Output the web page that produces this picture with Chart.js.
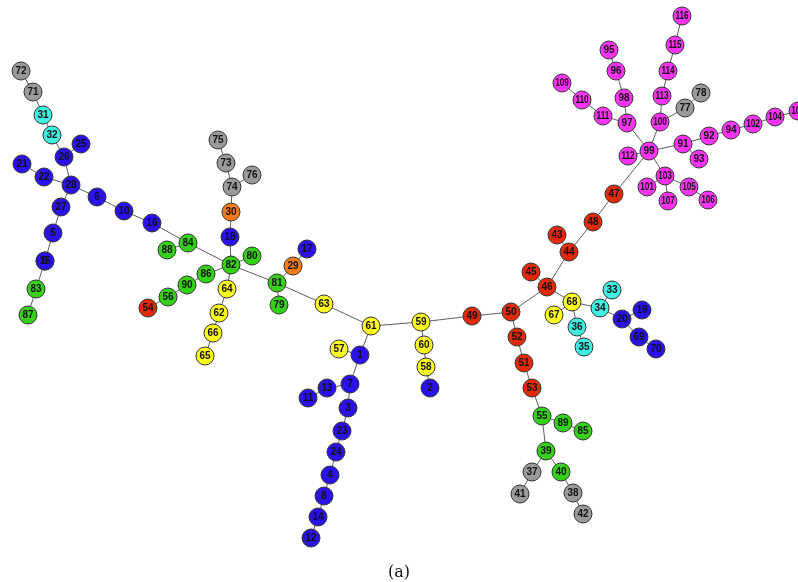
<!DOCTYPE html>
<html>
<head>
<meta charset="utf-8">
<script src="https://cdn.jsdelivr.net/npm/chart.js@4"></script>
<style>
  body { margin: 0; background: #fff; }
  #wrap { position: relative; width: 798px; height: 582px; }
  #caption { position: absolute; left: 0; width: 798px; top: 562px; text-align: center;
             font-family: "DejaVu Serif", "Liberation Serif", serif; font-size: 16px; color: #111; }
</style>
</head>
<body>
<div id="wrap">
  <canvas id="graph" width="798" height="582"></canvas>
  <div id="caption">(a)</div>
</div>
<script>
// node ids, layout coordinates and group of each node
var nodeIds = [72, 71, 31, 32, 25, 26, 21, 22, 28, 6, 27, 10, 16, 5, 84, 88, 9, 15, 90, 83, 56, 54, 87,
    75, 73, 76, 74, 30, 18, 17, 80, 29, 82, 86, 81, 64, 79, 63, 62, 66, 65, 57,
    61, 59, 49, 1, 60, 58, 7, 13, 2, 11, 3, 23, 24, 4, 8, 14, 12,
    45, 46, 33, 68, 34, 19, 50, 67, 20, 36, 69, 52, 35, 70, 51, 53, 55, 89, 85, 39, 37, 40, 38, 41, 42,
    48, 43, 44,
    116, 115, 95, 96, 114, 109, 78, 113, 98, 110, 77, 111, 100, 97, 102, 104, 94, 92, 91, 99, 112, 93,
    103, 101, 105, 47, 107, 106, 108];
var nodeX = [21, 33, 43, 52, 81, 64, 22, 44, 71, 97, 61, 124, 152, 53, 188, 167, 45, 45, 187, 36, 168, 148, 28,
    218, 226, 252, 232, 231, 230, 307, 252, 293, 231, 206, 277, 227, 279, 324, 219, 213, 205, 339,
    371, 421, 472, 360, 424, 426, 350, 327, 430, 308, 348, 342, 336, 330, 324, 318, 311,
    531, 547, 612, 572, 600, 642, 511, 554, 622, 577, 639, 517, 584, 656, 524, 532, 542, 563, 583, 546, 532, 561, 573, 520, 583,
    593, 557, 569,
    682, 675, 609, 616, 668, 562, 701, 662, 624, 582, 685, 603, 660, 627, 753, 775, 731, 709, 683, 649, 628, 699,
    665, 647, 689, 614, 668, 708, 798];
var nodeY = [71, 92, 115, 135, 144, 157, 164, 177, 185, 197, 207, 211, 223, 233, 243, 250, 261, 261, 285, 289, 297, 308, 315,
    140, 163, 175, 187, 212, 237, 249, 256, 266, 265, 274, 283, 289, 305, 304, 313, 333, 356, 349,
    326, 322, 316, 355, 345, 367, 384, 388, 388, 398, 408, 431, 452, 475, 496, 517, 538,
    272, 287, 290, 302, 308, 310, 312, 315, 319, 327, 337, 337, 347, 349, 363, 388, 416, 423, 431, 451, 472, 472, 493, 494, 514,
    222, 235, 252,
    16, 45, 50, 71, 71, 83, 93, 96, 98, 100, 108, 116, 122, 123, 124, 117, 130, 136, 144, 151, 156, 159,
    176, 187, 187, 194, 201, 200, 111];
var groupOf = {
    gray: [72, 71, 75, 73, 74, 76, 37, 41, 38, 42, 77, 78],
    cyan: [31, 32, 33, 34, 35, 36],
    blue: [1, 2, 3, 4, 5, 6, 7, 8, 9, 10, 11, 12, 13, 14, 15, 16, 17, 18, 19, 20, 21, 22, 23, 24, 25, 26, 27, 28, 69, 70],
    green: [83, 87, 84, 88, 90, 56, 86, 82, 80, 81, 79, 55, 89, 85, 39, 40],
    red: [54, 49, 50, 52, 51, 53, 45, 46, 43, 44, 48, 47],
    orange: [30, 29],
    yellow: [57, 61, 59, 60, 58, 63, 64, 62, 66, 65, 67, 68]
    // everything else is magenta (91..116)
};
var edges = [[72, 71], [71, 31], [31, 32], [32, 26], [26, 25], [26, 28], [21, 22], [22, 28], [28, 6], [28, 27],
    [27, 5], [5, 15], [15, 83], [83, 87], [6, 10], [10, 16], [16, 84], [84, 88], [84, 82], [82, 18], [18, 30],
    [30, 74], [74, 73], [73, 75], [74, 76], [82, 80], [82, 86], [86, 90], [90, 56], [56, 54], [82, 64], [64, 62],
    [62, 66], [66, 65], [82, 81], [81, 29], [29, 17], [81, 79], [81, 63], [63, 61], [61, 1], [1, 57], [1, 7],
    [7, 13], [13, 11], [7, 3], [3, 23], [23, 24], [24, 4], [4, 8], [8, 14], [14, 12], [61, 59], [59, 60],
    [60, 58], [58, 2], [59, 49], [49, 50], [50, 52], [52, 51], [51, 53], [53, 55], [55, 89], [89, 85], [55, 39],
    [39, 37], [37, 41], [39, 40], [40, 38], [38, 42], [50, 46], [46, 45], [46, 68], [68, 67], [68, 36], [36, 35],
    [68, 34], [34, 33], [34, 20], [20, 19], [20, 69], [69, 70], [46, 44], [44, 43], [44, 48], [48, 47], [47, 99],
    [99, 112], [99, 97], [97, 111], [111, 110], [110, 109], [97, 98], [98, 96], [96, 95], [99, 100], [100, 113],
    [113, 114], [114, 115], [115, 116], [100, 77], [77, 78], [99, 91], [91, 92], [92, 94], [94, 102], [102, 104],
    [104, 108], [91, 93], [99, 103], [103, 101], [103, 107], [103, 105], [105, 106]];

var palette = {
    gray: '#9a9a9a', cyan: '#3df0e0', blue: '#2a12ee', green: '#35d117',
    red: '#e02a08', orange: '#ff7a12', yellow: '#fbfb1e', magenta: '#ff33f5'
};

var colorFor = function(id) {
    for (var g in groupOf) {
        if (groupOf[g].indexOf(id) >= 0) return palette[g];
    }
    return palette.magenta;
};

var pointOf = function(id) {
    var i = nodeIds.indexOf(id);
    return { x: nodeX[i], y: nodeY[i] };
};

var datasets = [];
datasets.push({
    data: nodeIds.map(function(id, i) { return { x: nodeX[i], y: nodeY[i] }; }),
    pointRadius: 9,
    pointBackgroundColor: nodeIds.map(colorFor),
    pointBorderColor: '#333',
    pointBorderWidth: 1,
    showLine: false,
    clip: false,
    order: 0
});
edges.forEach(function(e) {
    datasets.push({
        data: [pointOf(e[0]), pointOf(e[1])],
        showLine: true,
        borderColor: '#5e5e5e',
        borderWidth: 1,
        pointRadius: 0,
        clip: false,
        order: 1
    });
});

// labels inside the node circles, three digit ones squeezed a bit
var nodeLabels = {
    id: 'nodeLabels',
    afterDatasetsDraw: function(chart) {
        var ctx = chart.ctx;
        var meta = chart.getDatasetMeta(0);
        ctx.fillStyle = '#111';
        ctx.textAlign = 'center';
        ctx.textBaseline = 'middle';
        ctx.font = 'bold 10px "Liberation Sans", Arial, sans-serif';
        meta.data.forEach(function(pt, i) {
            var txt = String(nodeIds[i]);
            ctx.save();
            ctx.translate(pt.x, pt.y + 0.5);
            if (txt.length > 2) ctx.scale(0.82, 1);
            ctx.fillText(txt, 0, 0);
            ctx.restore();
        });
    }
};

var graph = new Chart(document.getElementById('graph'), {
    type: 'scatter',
    data: { datasets: datasets },
    options: {
        responsive: false,
        animation: false,
        layout: { padding: 0, autoPadding: false },
        plugins: { legend: { display: false }, tooltip: { enabled: false } },
        scales: {
            x: { type: 'linear', min: 0, max: 798, display: false },
            y: { type: 'linear', min: 0, max: 582, reverse: true, display: false }
        }
    },
    plugins: [nodeLabels]
});
</script>
</body>
</html>
